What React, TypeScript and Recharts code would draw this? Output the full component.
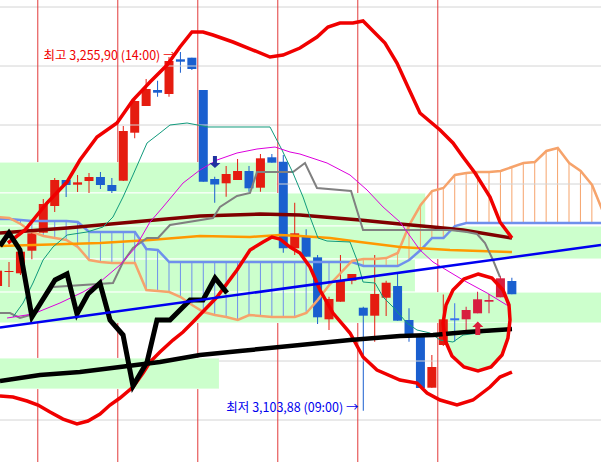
import React from "react";
import {
  ComposedChart,
  XAxis,
  YAxis,
  Bar,
  Line,
  Area,
  Cell,
  ReferenceDot,
} from "recharts";

// hourly candles, 7 per session; index 0 = first visible 09:00 bar
const candleIndex = [
  -4, -3, -2, -1, 0, 1, 2, 3, 4, 5, 6, 7, 8, 9, 10, 11, 12, 13, 14, 15, 16, 17,
  18, 19, 20, 21, 22, 23, 24, 25, 26, 27, 28, 29, 30, 31, 32, 33, 34, 35, 36,
  37, 38, 39, 40, 41,
];
const openP = [
  3156.78, 3162.72, 3162.17, 3171.74, 3179.37, 3190.68, 3201.7, 3199.71,
  3201.27, 3202.97, 3199.58, 3201.4, 3221.74, 3233.05, 3239.83, 3238.14,
  3252.84, 3253.52, 3239.83, 3202.12, 3200.3, 3201.7, 3205.51, 3198.44,
  3211.32, 3209.45, 3172.75, 3177.97, 3168.94, 3142.67, 3150.13, 3159.03,
  3147.59, 3144.2, 3151.82, 3156.78, 3142.37, 3136.02, 3113.69, 3131.78,
  3143.1, 3142.67, 3145.21, 3150.13, 3152.0, 3158.9,
];
const highP = [
  3164.41, 3166.95, 3173.31, 3179.24, 3193.65, 3202.55, 3201.7, 3203.82,
  3204.66, 3205.09, 3202.55, 3224.58, 3236.99, 3244.49, 3243.77, 3253.81,
  3255.9, 3253.52, 3239.83, 3203.1, 3207.63, 3210.59, 3207.63, 3212.72,
  3212.72, 3212.29, 3192.08, 3180.81, 3169.92, 3152.25, 3169.92, 3161.87,
  3148.01, 3169.92, 3159.03, 3162.17, 3147.34, 3136.02, 3127.54, 3153.18,
  3149.45, 3148.01, 3154.37, 3153.39, 3161.02, 3160.3,
];
const lowP = [
  3155.94, 3156.36, 3161.44, 3168.1, 3179.24, 3188.14, 3194.5, 3196.61,
  3196.19, 3197.88, 3196.19, 3201.27, 3219.37, 3233.05, 3236.99, 3236.99,
  3247.16, 3248.31, 3200.98, 3192.08, 3194.62, 3201.7, 3196.74, 3196.74,
  3209.03, 3170.89, 3169.92, 3169.2, 3140.68, 3138.14, 3150.13, 3157.5,
  3103.88, 3133.18, 3144.07, 3142.08, 3133.18, 3113.56, 3113.69, 3131.36,
  3133.18, 3137.42, 3145.21, 3145.21, 3152.0, 3153.27,
];
const closeP = [
  3163.27, 3163.14, 3171.32, 3179.11, 3191.53, 3201.7, 3199.58, 3200.72,
  3202.97, 3199.58, 3197.04, 3222.46, 3235.17, 3240.26, 3238.69, 3252.12,
  3251.83, 3248.73, 3200.98, 3199.79, 3204.24, 3205.51, 3198.18, 3210.89,
  3209.03, 3172.75, 3179.11, 3169.2, 3143.52, 3151.27, 3159.03, 3161.87,
  3144.2, 3153.39, 3158.18, 3142.08, 3136.02, 3113.56, 3122.46, 3142.67,
  3142.25, 3146.61, 3151.15, 3150.85, 3160.05, 3153.27,
];
const circledBars = [36, 37, 38, 39, 40];

// ichimoku leading spans, shifted forward past the last bar
const cloudIndex = [
  -4, -3, -2, -1, 0, 1, 2, 3, 4, 5, 6, 7, 8, 9, 10, 11, 12, 13, 14, 15, 16, 17,
  18, 19, 20, 21, 22, 23, 24, 25, 26, 27, 28, 29, 30, 31, 32, 33, 34, 35, 36,
  37, 38, 39, 40, 41, 42, 43, 44, 45, 46, 47, 48, 49,
];
const spanA = [
  3186.02, 3185.6, 3183.05, 3179.67, 3177.97, 3177.12, 3176.27, 3173.31,
  3167.8, 3166.95, 3166.53, 3166.53, 3166.53, 3155.09, 3154.66, 3154.24,
  3152.12, 3148.73, 3145.76, 3144.49, 3143.64, 3142.37, 3144.49, 3144.07,
  3143.64, 3143.64, 3143.64, 3145.34, 3150.85, 3157.2, 3162.29, 3167.38,
  3168.22, 3168.22, 3168.64, 3170.77, 3182.63, 3191.1, 3197.04, 3198.31,
  3203.82, 3204.66, 3205.09, 3205.09, 3205.51, 3207.21, 3208.9, 3209.32,
  3213.99, 3215.26, 3208.9, 3205.51, 3199.58, 3187.7,
];
const spanB = [
  3185.17, 3185.17, 3184.75, 3184.32, 3184.32, 3184.32, 3184.32, 3183.9,
  3179.67, 3179.67, 3179.67, 3179.67, 3179.67, 3172.46, 3172.04, 3166.95,
  3166.95, 3166.95, 3166.95, 3166.95, 3166.95, 3166.95, 3166.95, 3166.95,
  3166.95, 3166.95, 3166.95, 3166.95, 3166.95, 3166.95, 3166.95, 3166.95,
  3165.26, 3165.26, 3165.26, 3165.26, 3167.8, 3172.04, 3177.12, 3177.12,
  3182.21, 3183.48, 3183.48, 3183.48, 3183.48, 3183.48, 3183.48, 3183.48,
  3183.48, 3183.48, 3183.48, 3183.48, 3183.48, 3183.48,
];

// overlays traced as [bar index, price]
const upperBand = [
  [-3.11, 3175.0], [-1.62, 3180.51], [0.31, 3191.95], [2.06, 3200.85],
  [3.19, 3210.17], [4.68, 3219.92], [6.43, 3225.85], [7.83, 3235.6],
  [9.32, 3243.22], [10.81, 3250.43], [11.94, 3258.05], [12.99, 3264.41],
  [13.96, 3264.41], [14.83, 3263.14], [16.58, 3260.17], [18.33, 3256.78],
  [19.82, 3253.82], [20.96, 3254.66], [22.44, 3257.63], [23.93, 3262.29],
  [24.89, 3266.53], [25.94, 3268.22], [27.08, 3268.22], [27.96, 3269.07],
  [29.88, 3259.75], [30.93, 3251.27], [31.89, 3241.1], [32.94, 3230.09],
  [34.7, 3222.88], [35.83, 3217.38], [36.71, 3211.44], [37.76, 3204.66],
  [39.07, 3194.5], [39.94, 3183.9], [40.99, 3177.12],
];
const lowerBand = [
  [-3.81, 3110.17], [-2.67, 3109.75], [-1.44, 3108.05], [-0.48, 3106.35],
  [0.57, 3103.39], [1.71, 3100.42], [2.93, 3098.31], [3.89, 3099.58],
  [4.94, 3102.54], [5.82, 3106.35], [6.69, 3109.32], [7.83, 3113.98],
  [8.71, 3119.92], [9.32, 3124.58], [10.19, 3128.81], [11.33, 3133.9],
  [12.21, 3137.29], [13.08, 3141.53], [15.18, 3152.12], [16.93, 3163.56],
  [18.07, 3172.04], [19.21, 3175.43], [19.99, 3177.55], [20.69, 3176.7],
  [21.57, 3173.31], [22.44, 3170.77], [23.32, 3164.83], [24.19, 3155.09],
  [25.33, 3145.34], [26.82, 3136.87], [27.96, 3126.7], [29.18, 3121.19],
  [31.19, 3116.95], [32.68, 3115.68], [33.56, 3111.44], [34.7, 3108.47],
  [36.18, 3106.35], [37.58, 3108.47], [39.07, 3113.98], [39.94, 3118.22],
  [40.99, 3120.34],
];
const zigzag = [
  [-3.81, 3173.73], [-3.02, 3179.24], [-2.06, 3172.04], [-1.01, 3143.64],
  [1.01, 3159.32], [2.06, 3161.87], [2.93, 3144.92], [3.89, 3153.39],
  [4.94, 3158.05], [5.82, 3142.37], [6.96, 3136.02], [7.83, 3114.41],
  [9.06, 3124.58], [9.93, 3142.37], [11.07, 3142.37], [12.82, 3150.85],
  [13.96, 3150.85], [15.01, 3160.17], [16.06, 3153.82],
];
const longAvg = [
  [-3.81, 3116.53], [-0.31, 3119.07], [3.19, 3120.34], [6.69, 3122.46],
  [10.19, 3124.58], [13.69, 3127.54], [17.19, 3129.24], [22.44, 3131.78],
  [26.82, 3133.9], [31.19, 3135.59], [34.08, 3136.02], [37.06, 3137.29],
  [40.99, 3138.56],
];
const maroonAvg = [
  [-3.81, 3179.24], [2.06, 3181.36], [7.83, 3183.9], [13.69, 3186.44],
  [18.94, 3187.29], [22.44, 3186.87], [27.69, 3184.75], [31.19, 3183.05],
  [34.08, 3181.78], [36.71, 3180.51], [40.99, 3177.12],
];
const orangeAvg = [
  [-3.81, 3173.73], [4.94, 3175.0], [9.32, 3176.27], [13.69, 3177.97],
  [18.07, 3177.55], [20.69, 3178.39], [22.44, 3177.97], [25.07, 3177.12],
  [27.69, 3175.43], [31.19, 3173.31], [35.57, 3172.04], [40.99, 3171.19],
];
const tealAvg = [
  [-2.67, 3143.64], [-1.79, 3149.58], [-0.92, 3158.05], [-0.04, 3167.8],
  [0.83, 3173.31], [2.06, 3178.39], [3.81, 3179.67], [5.21, 3181.78],
  [6.08, 3186.02], [6.96, 3194.5], [7.83, 3203.82], [9.06, 3217.38],
  [10.19, 3221.61], [11.07, 3225.0], [12.56, 3225.85], [14.39, 3224.16],
  [19.82, 3224.16], [20.87, 3214.41], [21.83, 3204.66], [22.71, 3194.5],
  [23.32, 3186.02], [24.02, 3177.12], [24.81, 3175.85], [26.82, 3175.43],
  [27.43, 3167.8], [27.96, 3158.47], [29.01, 3158.05], [29.71, 3152.12],
  [30.58, 3147.88], [31.81, 3141.1], [32.68, 3138.14], [33.82, 3136.87],
  [34.7, 3133.9], [35.83, 3133.05], [36.71, 3136.02], [40.99, 3138.56],
];
const magentaAvg = [
  [-3.19, 3143.22], [-0.92, 3144.92], [1.44, 3149.58], [3.46, 3154.24],
  [4.94, 3158.47], [6.69, 3165.68], [8.01, 3172.88], [9.32, 3183.9],
  [10.46, 3190.26], [12.21, 3200.42], [13.69, 3205.93], [15.18, 3210.17],
  [16.93, 3213.14], [18.68, 3214.83], [20.26, 3215.68], [21.57, 3213.56],
  [22.44, 3212.71], [24.81, 3208.9], [26.82, 3203.82], [28.31, 3197.46],
  [29.71, 3190.26], [31.19, 3183.9], [32.94, 3172.04], [34.08, 3166.95],
  [36.71, 3159.32], [38.81, 3153.82], [40.82, 3147.88],
];
const grayAvg = [
  [-3.81, 3145.34], [-2.93, 3145.34], [-2.06, 3143.22], [-1.18, 3144.49],
  [0.13, 3151.7], [0.83, 3156.36], [6.08, 3158.05], [6.96, 3166.95],
  [7.83, 3172.88], [9.06, 3177.12], [10.02, 3177.12], [11.07, 3182.63],
  [14.83, 3185.6], [15.44, 3190.26], [16.93, 3194.92], [18.07, 3196.19],
  [18.68, 3205.09], [21.83, 3205.09], [22.88, 3208.9], [23.93, 3198.31],
  [26.91, 3197.04], [27.96, 3180.51], [35.57, 3180.51], [37.06, 3179.67],
  [37.93, 3178.82], [38.63, 3175.0], [39.33, 3167.8], [39.94, 3160.6],
];
const trendLine = [[-3.81, 3139.2], [48.78, 3174.16]];
const circleMark = [
  [38.02, 3161.87], [39.24, 3160.17], [40.21, 3155.09], [40.73, 3148.73],
  [40.82, 3142.37], [40.64, 3134.75], [40.12, 3127.54], [39.16, 3122.46],
  [38.02, 3120.77], [36.79, 3122.46], [35.74, 3127.12], [35.13, 3133.9],
  [34.96, 3141.1], [35.22, 3148.73], [35.83, 3155.09], [36.79, 3159.75],
];
const circleFill = [
  [34.96, 3141.1, 3141.1], [35.13, 3133.9, 3141.1], [35.74, 3127.12, 3141.1],
  [36.79, 3122.46, 3141.1], [38.02, 3120.77, 3141.1], [39.16, 3122.46, 3141.1],
  [40.12, 3127.54, 3141.1], [40.64, 3134.75, 3141.1], [40.82, 3141.1, 3141.1],
];

// highlighted price zones (drawn from the left edge)
const zoneTo = [20.4, 33.4, 50, 32.5, 50, 15.35];
const zoneLow = [3196.2, 3182.2, 3168.2, 3154.2, 3141.1, 3113.1];
const zoneHigh = [3209.3, 3196.2, 3182.2, 3168.2, 3154.2, 3126.3];

// grid: price levels and session breaks, with the stretches left uncovered
const priceLevels = [3100, 3125, 3200, 3225, 3250, 3275];
const levelRuns = [
  [[-3.81, 48.78]],
  [[15.35, 36.0], [39.9, 48.78]],
  [[20.4, 48.78]],
  [[-3.81, 48.78]],
  [[-3.81, 48.78]],
  [[-3.81, 48.78]],
];
const dayBreaks = [-0.5, 6.5, 13.5, 20.5, 27.5, 34.5];
const breakRuns = [
  [[3277.97, 3209.3], [3141.1, 3126.3], [3113.1, 3082.21]],
  [[3277.97, 3209.3], [3141.1, 3126.3], [3113.1, 3082.21]],
  [[3277.97, 3209.3], [3141.1, 3126.3], [3113.1, 3082.21]],
  [[3277.97, 3196.2], [3141.1, 3082.21]],
  [[3277.97, 3196.2], [3141.1, 3082.21]],
  [[3277.97, 3182.2], [3168.2, 3154.2], [3141.1, 3082.21]],
];

const X_DOMAIN: [number, number] = [-3.806, 48.781];
const Y_DOMAIN: [number, number] = [3082.21, 3277.97];
const FONT = "'Noto Sans CJK KR', 'Noto Sans', sans-serif";

// one row per bar slot; candles stop at 41, the cloud runs on to 49
const rows = cloudIndex.map((i, k) => {
  const c = candleIndex.indexOf(i);
  const row: any = {
    i,
    span: [Math.min(spanA[k], spanB[k]), Math.max(spanA[k], spanB[k])],
    aTop: spanA[k] >= spanB[k],
  };
  if (c >= 0) {
    row.body = [Math.min(openP[c], closeP[c]), Math.max(openP[c], closeP[c])];
    row.wick = [lowP[c], highP[c]];
    row.up = closeP[c] >= openP[c];
  }
  return row;
});
const spanALine = cloudIndex.map((i, k) => ({ i, p: spanA[k] }));
const spanBLine = cloudIndex.map((i, k) => ({ i, p: spanB[k] }));

const trace = (pts: number[][]) => pts.map(([i, p]) => ({ i, p }));

// runs joined with a null gap so the line breaks between them
const levelData = (p: number, runs: number[][]) =>
  runs.flatMap(([a, b]) => [{ i: a, p }, { i: b, p }, { i: b, p: null }]);
const breakData = (i: number, runs: number[][]) =>
  runs.flatMap(([a, b]) => [{ i, p: a }, { i, p: b }, { i, p: null }]);

function candleColor(r: any) {
  if (r.body === undefined) return "none";
  if (circledBars.includes(r.i)) return r.up ? "#d81e40" : "#3a70ee";
  return r.up ? "#e51c10" : "#1a5fcf";
}

const DownArrow = (props: any) => {
  const { cx, cy } = props;
  return (
    <path
      d={`M${cx - 2},${cy - 6} h4 v7 h3.5 l-5.5,5 l-5.5,-5 h3.5 z`}
      fill="#1f32a0"
    />
  );
};

const UpArrow = (props: any) => {
  const { cx, cy } = props;
  return (
    <path
      d={`M${cx},${cy - 6.5} l5.5,5.5 h-3 v8 h-5 v-8 h-3 z`}
      fill="#dc1e3c"
    />
  );
};

function line(
  key: string,
  data: { i: number; p: number | null }[],
  stroke: string,
  width: number,
  type: any = "linear"
) {
  return (
    <Line
      key={key}
      data={data}
      dataKey="p"
      type={type}
      stroke={stroke}
      strokeWidth={width}
      dot={false}
      activeDot={false}
      connectNulls={false}
      isAnimationActive={false}
    />
  );
}

export default function App() {
  return (
    <div
      style={{
        position: "absolute",
        left: 0,
        top: 0,
        width: 601,
        height: 462,
        background: "#ffffff",
      }}
    >
      <ComposedChart
        width={601}
        height={462}
        data={rows}
        margin={{ top: 0, right: 0, bottom: 0, left: 0 }}
      >
        <XAxis type="number" dataKey="i" domain={X_DOMAIN} allowDataOverflow hide />
        <XAxis xAxisId="body" type="number" dataKey="i" domain={X_DOMAIN} allowDataOverflow hide />
        <XAxis xAxisId="wick" type="number" dataKey="i" domain={X_DOMAIN} allowDataOverflow hide />
        <XAxis xAxisId="hatch" type="number" dataKey="i" domain={X_DOMAIN} allowDataOverflow hide />
        <YAxis type="number" domain={Y_DOMAIN} allowDataOverflow hide />

        {priceLevels.map((p, k) =>
          line(`lv${p}`, levelData(p, levelRuns[k]), "#d4d4d4", 1)
        )}
        {dayBreaks.map((i, k) =>
          line(`db${i}`, breakData(i, breakRuns[k]), "#e23a3a", 1)
        )}

        {zoneLow.map((lo, k) => (
          <Area
            key={`z${k}`}
            data={[
              { i: -4, r: [lo, zoneHigh[k]] },
              { i: zoneTo[k], r: [lo, zoneHigh[k]] },
            ]}
            dataKey="r"
            type="linear"
            fill="#ccffcc"
            fillOpacity={1}
            stroke="#ffffff"
            strokeWidth={1}
            isAnimationActive={false}
            activeDot={false}
          />
        ))}

        <Area
          data={circleFill.map(([i, lo, hi]) => ({ i, r: [lo, hi] }))}
          dataKey="r"
          type="linear"
          stroke="none"
          fill="#ccffcc"
          fillOpacity={1}
          isAnimationActive={false}
          activeDot={false}
        />

        <Bar xAxisId="hatch" dataKey="span" barSize={1} isAnimationActive={false}>
          {rows.map((h) => (
            <Cell key={`hc${h.i}`} fill={h.aTop ? "#f6a36b" : "#6f90ec"} />
          ))}
        </Bar>

        {line("spanB", spanBLine, "#6f90ec", 2.5)}
        {line("spanA", spanALine, "#f6a36b", 2.5)}
        {line("maroon", trace(maroonAvg), "#800000", 3.5)}
        {line("orange", trace(orangeAvg), "#ff9900", 2.5)}
        {line("gray", trace(grayAvg), "#808080", 2)}
        {line("teal", trace(tealAvg), "#109a7c", 1)}
        {line("magenta", trace(magentaAvg), "#dd00dd", 1)}
        {line("upper", trace(upperBand), "#f00000", 3.5)}
        {line("lower", trace(lowerBand), "#f00000", 3.5)}

        <Bar xAxisId="wick" dataKey="wick" barSize={1} isAnimationActive={false}>
          {rows.map((r) => (
            <Cell key={`w${r.i}`} fill={candleColor(r)} />
          ))}
        </Bar>
        <Bar xAxisId="body" dataKey="body" barSize={9} isAnimationActive={false}>
          {rows.map((r) => (
            <Cell key={`b${r.i}`} fill={candleColor(r)} />
          ))}
        </Bar>

        {line("longAvg", trace(longAvg), "#000000", 4.5)}
        {line("zigzag", trace(zigzag), "#000000", 5)}
        {line("trend", trace(trendLine), "#0000f0", 2.5)}
        {line("circle", trace(circleMark), "#f00000", 3.5, "linearClosed")}

        <ReferenceDot x={15} y={3209.32} r={1} shape={DownArrow} />
        <ReferenceDot x={38} y={3138.99} r={1} shape={UpArrow} />

        <ReferenceDot
          x={12}
          y={3255.9}
          r={1}
          fill="none"
          stroke="none"
          label={{
            value: "최고 3,255,90 (14:00) →",
            position: "left",
            offset: 4,
            fill: "#f00000",
            fontSize: 12.5,
            fontFamily: FONT,
            dy: 3,
          }}
        />
        <ReferenceDot
          x={28}
          y={3103.88}
          r={1}
          fill="none"
          stroke="none"
          label={{
            value: "최저 3,103,88 (09:00) →",
            position: "left",
            offset: 4,
            fill: "#0000ee",
            fontSize: 12.5,
            fontFamily: FONT,
            dy: -3.5,
          }}
        />
      </ComposedChart>
    </div>
  );
}
